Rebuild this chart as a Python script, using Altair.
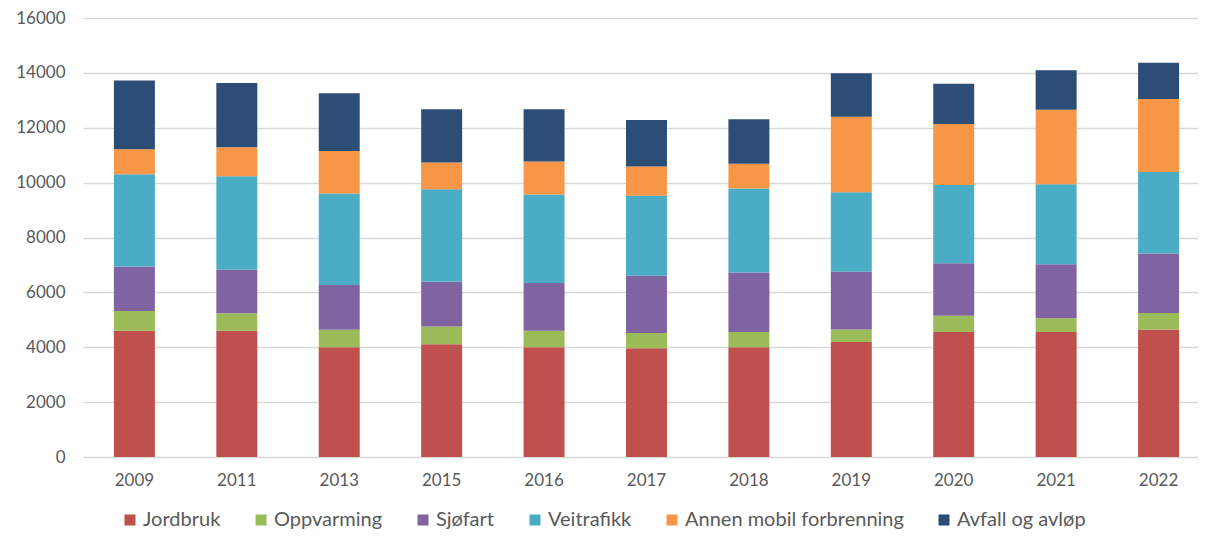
import altair as alt
import pandas as pd

years = ["2009", "2011", "2013", "2015", "2016", "2017", "2018", "2019", "2020", "2021", "2022"]
categories = ["Jordbruk", "Oppvarming", "Sjøfart", "Veitrafikk", "Annen mobil forbrenning", "Avfall og avløp"]
colors = ["#C0504D", "#9BBB59", "#8064A2", "#4BACC6", "#F79646", "#2C4D75"]

jordbruk = [4600, 4600, 4000, 4110, 4000, 3960, 4000, 4195, 4560, 4560, 4645]
oppvarming = [720, 640, 635, 645, 600, 560, 560, 450, 585, 500, 600]
sjofart = [1620, 1585, 1635, 1635, 1745, 2090, 2160, 2110, 1915, 1965, 2170]
veitrafikk = [3365, 3405, 3330, 3365, 3220, 2915, 3070, 2890, 2855, 2915, 2975]
annen = [915, 1060, 1550, 975, 1205, 1060, 900, 2755, 2220, 2720, 2660]
avfall = [2500, 2340, 2110, 1940, 1905, 1695, 1620, 1585, 1465, 1440, 1315]

series = [jordbruk, oppvarming, sjofart, veitrafikk, annen, avfall]
rows = []
for ci, (cat, vals) in enumerate(zip(categories, series)):
    for y, v in zip(years, vals):
        rows.append({"År": y, "Kategori": cat, "Verdi": v, "idx": ci})
df = pd.DataFrame(rows)

FONT = "Lato"
TXT = "#595959"

chart = alt.Chart(df).mark_bar().encode(
    x=alt.X("År:N", sort=years,
            scale=alt.Scale(paddingInner=0.6, paddingOuter=0.2435, align=0.62),
            axis=alt.Axis(title=None, labelAngle=0, domain=False, ticks=False,
                          labelPadding=15, labelFont=FONT, labelFontSize=17,
                          labelColor=TXT)),
    y=alt.Y("Verdi:Q", stack="zero",
            scale=alt.Scale(domain=[0, 16000], nice=False),
            axis=alt.Axis(title=None, values=list(range(0, 16001, 2000)), format="d",
                          domain=False, ticks=False, labelPadding=18,
                          labelFont=FONT, labelFontSize=17, labelColor=TXT,
                          gridColor="#D9D9D9", gridWidth=1.3)),
    color=alt.Color("Kategori:N", sort=categories,
                    scale=alt.Scale(domain=categories, range=colors),
                    legend=alt.Legend(title=None, orient="none", legendX=37, legendY=492,
                                      direction="horizontal", columns=6,
                                      symbolType="square", symbolSize=121,
                                      symbolStrokeWidth=0, labelFont=FONT,
                                      labelFontSize=20, labelColor=TXT, labelLimit=0,
                                      labelOffset=3, columnPadding=30)),
    order=alt.Order("idx:Q", sort="ascending"),
).properties(
    width=1115, height=439,
    padding={"left": 75, "top": 10, "right": 0, "bottom": 74},
    autosize="none",
).configure_view(stroke=None)

chart.save("out.html", embed_options={"renderer": "svg", "actions": False})
